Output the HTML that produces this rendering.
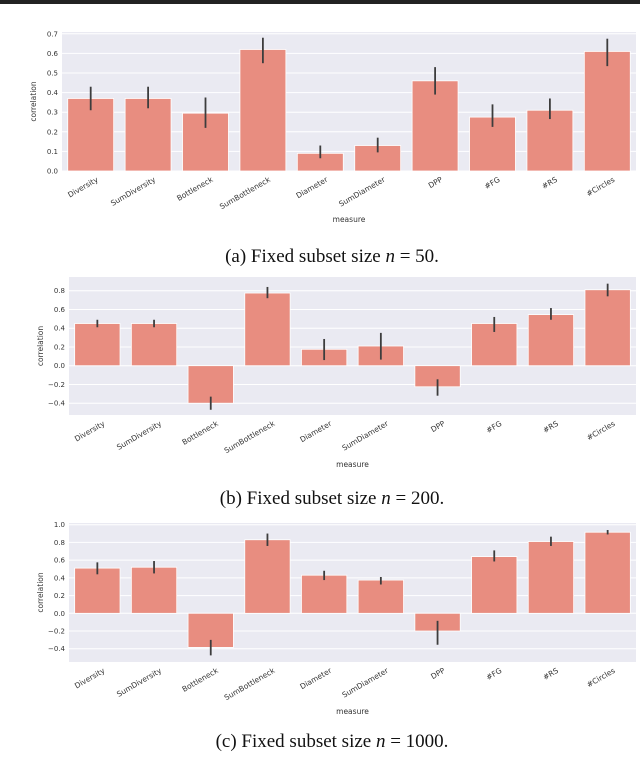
<!DOCTYPE html>
<html><head><meta charset="utf-8"><style>
body{margin:0;background:#fff;width:640px;height:759px;overflow:hidden}
svg{display:block}
</style></head><body>
<svg id="fig" width="640" height="759" xmlns="http://www.w3.org/2000/svg" font-family="'DejaVu Sans', sans-serif">
<rect x="0" y="0" width="640" height="4" fill="#222"/>
</svg>
<script>
const categories = ["Diversity","SumDiversity","Bottleneck","SumBottleneck","Diameter","SumDiameter","DPP","#FG","#RS","#Circles"];
const valuesA = [0.37,0.37,0.295,0.62,0.09,0.13,0.46,0.275,0.31,0.61];
const lowA = [0.31,0.32,0.22,0.55,0.065,0.095,0.39,0.225,0.265,0.535];
const highA = [0.43,0.43,0.375,0.68,0.13,0.17,0.53,0.34,0.37,0.675];
const ticksA = [0,0.1,0.2,0.3,0.4,0.5,0.6,0.7];
const tickLabelsA = ["0.0","0.1","0.2","0.3","0.4","0.5","0.6","0.7"];
const valuesB = [0.45,0.45,-0.40,0.775,0.175,0.21,-0.225,0.45,0.545,0.81];
const lowB = [0.41,0.41,-0.47,0.72,0.06,0.065,-0.32,0.36,0.49,0.74];
const highB = [0.49,0.49,-0.33,0.84,0.285,0.35,-0.145,0.52,0.615,0.875];
const ticksB = [-0.4,-0.2,0,0.2,0.4,0.6,0.8];
const tickLabelsB = ["\u22120.4","\u22120.2","0.0","0.2","0.4","0.6","0.8"];
const valuesC = [0.51,0.52,-0.385,0.83,0.43,0.375,-0.20,0.64,0.81,0.915];
const lowC = [0.44,0.45,-0.475,0.76,0.375,0.325,-0.355,0.585,0.76,0.89];
const highC = [0.575,0.59,-0.30,0.90,0.48,0.41,-0.085,0.71,0.865,0.94];
const ticksC = [-0.4,-0.2,0,0.2,0.4,0.6,0.8,1.0];
const tickLabelsC = ["\u22120.4","\u22120.2","0.0","0.2","0.4","0.6","0.8","1.0"];

const NS="http://www.w3.org/2000/svg";
const svg=document.getElementById('fig');
function mk(tag,attrs,parent){const e=document.createElementNS(NS,tag);for(const k in attrs)e.setAttribute(k,attrs[k]);(parent||svg).appendChild(e);return e;}

function drawChart(id,cfg,vals,lo,hi,ticks,tickLabels,caption){
  const g=mk('g',{});
  
  
  const y=v=>cfg.y0-(v-cfg.v0)*cfg.scale;
  const bg=mk('rect',{x:cfg.x0,y:cfg.top,width:cfg.x1-cfg.x0,height:cfg.bottom-cfg.top,fill:'#eaeaf2'},g);
  
  
  ticks.forEach((t,i)=>{
    const ty=y(t);
    const gl=mk('line',{x1:cfg.x0,x2:cfg.x1,y1:ty,y2:ty,stroke:'#fff','stroke-width':1},g);
    
    
    const tl=mk('text',{x:cfg.x0-4,y:ty+2.5,'font-size':7,fill:'#333','text-anchor':'end'},g);
    tl.textContent=tickLabels[i];
    
    
  });
  const slot=(cfg.x1-cfg.x0)/categories.length;
  const x=i=>cfg.x0+slot*(i+0.5);
  const z=y(0);
  categories.forEach((c,i)=>{
    const vy=y(vals[i]);
    const b=mk('rect',{x:x(i)-slot*0.4,y:Math.min(vy,z),width:slot*0.8,height:Math.abs(vy-z),fill:'#e88d80',stroke:'#fff','stroke-width':0.8},g);
    
    
    const e=mk('line',{x1:x(i),x2:x(i),y1:y(lo[i]),y2:y(hi[i]),stroke:'#3d3d3d','stroke-width':1.8},g);
    
    
    const lx=x(i)+8, ly=cfg.bottom+10;
    const t=mk('text',{x:lx,y:ly,'font-size':7.5,fill:'#333','text-anchor':'end',transform:`rotate(-30 ${lx} ${ly})`},g);
    t.textContent=c;
    
    
  });
  const yl=mk('text',{x:0,y:0,'font-size':7.5,fill:'#333','text-anchor':'middle',transform:`translate(${cfg.x0-26} ${(cfg.top+cfg.bottom)/2}) rotate(-90)`},g);
  yl.textContent='correlation';
  
  
  const xl=mk('text',{x:(cfg.x0+cfg.x1)/2,y:cfg.measureY,'font-size':7.5,fill:'#333','text-anchor':'middle'},g);
  xl.textContent='measure';
  
  
  const cap=mk('text',{x:332,y:cfg.capY,'font-size':19,fill:'#111','text-anchor':'middle','font-family':"'Liberation Serif', serif"},g);
  cap.innerHTML=caption;
  
  
}
drawChart('chart-n50',{x0:62,x1:636,top:32,bottom:171,y0:171,v0:0,scale:196,measureY:222,capY:262},valuesA,lowA,highA,ticksA,tickLabelsA,'(a) Fixed subset size <tspan font-style="italic">n</tspan> = 50.');
drawChart('chart-n200',{x0:69,x1:636,top:277,bottom:415,y0:365.7,v0:0,scale:93.75,measureY:467,capY:504},valuesB,lowB,highB,ticksB,tickLabelsB,'(b) Fixed subset size <tspan font-style="italic">n</tspan> = 200.');
drawChart('chart-n1000',{x0:69,x1:636,top:523,bottom:662,y0:613.3,v0:0,scale:88.6,measureY:714,capY:747},valuesC,lowC,highC,ticksC,tickLabelsC,'(c) Fixed subset size <tspan font-style="italic">n</tspan> = 1000.');
</script>
</body></html>
